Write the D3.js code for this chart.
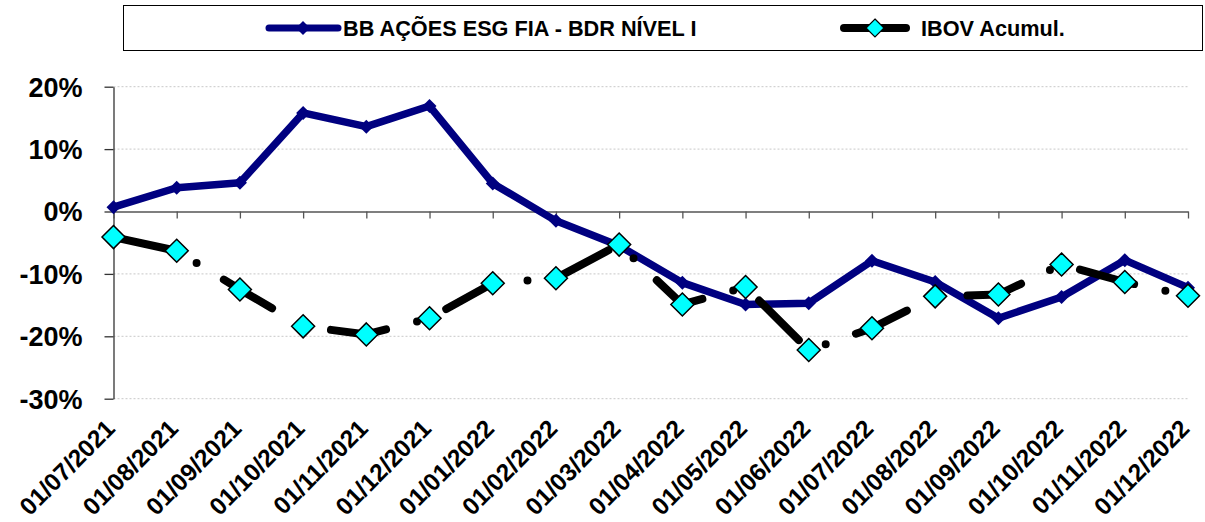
<!DOCTYPE html>
<meta charset="utf-8">
<script src="https://d3js.org/d3.v7.min.js"></script>
<style>
  body { margin: 0; background: #fff; }
  text { font-family: "Liberation Sans", Arial, sans-serif; font-weight: bold; fill: #000; }
</style>
<div id="viz"></div>
<script>
// categories and series values (percent)
var dates = ["01/07/2021", "01/08/2021", "01/09/2021", "01/10/2021", "01/11/2021", "01/12/2021",
             "01/01/2022", "01/02/2022", "01/03/2022", "01/04/2022", "01/05/2022", "01/06/2022",
             "01/07/2022", "01/08/2022", "01/09/2022", "01/10/2022", "01/11/2022", "01/12/2022"];
var bbEsg = [0.7, 3.8, 4.6, 15.8, 13.6, 16.9, 4.5, -1.5, -5.5, -11.4, -14.9, -14.7, -7.9, -11.3, -17.1, -13.7, -7.8, -12.2];
var ibov  = [-4.1, -6.3, -12.5, -18.4, -19.7, -17.1, -11.5, -10.7, -5.3, -14.9, -12.1, -22.2, -18.7, -13.6, -13.3, -8.5, -11.3, -13.5];
var yTicks = [20, 10, 0, -10, -20, -30];
var seriesNames = ["BB AÇÕES ESG FIA - BDR NÍVEL I", "IBOV Acumul."];

var W = 1205, H = 522;
var svg = d3.select("#viz").append("svg")
  .attr("width", W).attr("height", H);

var x = d3.scalePoint().domain(dates).range([113.5, 1188]);
var y = d3.scaleLinear().domain([-30, 20]).range([398.7, 86.7]);

// gridlines
svg.append("g").selectAll("line")
  .data(yTicks.filter(function(d) { return d !== 0; }))
  .enter().append("line")
  .attr("x1", 113.5).attr("x2", 1188)
  .attr("y1", function(d) { return y(d); }).attr("y2", function(d) { return y(d); })
  .attr("stroke", "#c8c8c8").attr("stroke-width", 1).attr("stroke-dasharray", "2,2");

// y axis
var yAxis = svg.append("g")
  .attr("transform", "translate(113.5,0)")
  .call(d3.axisLeft(y).tickValues(yTicks).tickSize(9).tickSizeOuter(0).tickPadding(22)
        .tickFormat(function(d) { return d + "%"; }));
yAxis.select(".domain").attr("stroke", "#333").attr("stroke-width", 1.3);
yAxis.selectAll(".tick line").attr("stroke", "#333").attr("stroke-width", 1.3);
yAxis.selectAll("text").style("font-size", "27px").attr("dy", "0.35em");

// x axis at 0%
var xAxis = svg.append("g")
  .attr("transform", "translate(0," + y(0) + ")")
  .call(d3.axisBottom(x).tickSize(7).tickSizeOuter(0).tickFormat(""));
xAxis.select(".domain").attr("stroke", "#555").attr("stroke-width", 1.3);
xAxis.selectAll(".tick line").attr("stroke", "#555").attr("stroke-width", 1.3);

// x labels, rotated
svg.append("g").selectAll("text")
  .data(dates)
  .enter().append("text")
  .attr("text-anchor", "end")
  .attr("transform", function(d) { return "translate(" + (x(d) + 3) + ",430) rotate(-45)"; })
  .style("font-size", "24.5px")
  .text(function(d) { return d; });

var diamond = function(r) { return "M0," + (-r) + "L" + r + ",0L0," + r + "L" + (-r) + ",0Z"; };

// BB ESG series
var line = d3.line()
  .x(function(d, i) { return x(dates[i]); })
  .y(function(d) { return y(d); });

svg.append("path")
  .datum(bbEsg)
  .attr("d", line)
  .attr("fill", "none")
  .attr("stroke", "#000080")
  .attr("stroke-width", 7.5)
  .attr("stroke-linejoin", "round");
svg.append("g").selectAll("path")
  .data(bbEsg)
  .enter().append("path")
  .attr("d", diamond(7))
  .attr("transform", function(d, i) { return "translate(" + x(dates[i]) + "," + y(d) + ")"; })
  .attr("fill", "#000080");

// IBOV series
svg.append("path")
  .datum(ibov)
  .attr("d", line)
  .attr("fill", "none")
  .attr("stroke", "#000")
  .attr("stroke-width", 8)
  .attr("stroke-linecap", "round")
  .attr("stroke-linejoin", "round")
  .attr("stroke-dasharray", "56,32,0,32");
svg.append("g").selectAll("path")
  .data(ibov)
  .enter().append("path")
  .attr("d", diamond(11.5))
  .attr("transform", function(d, i) { return "translate(" + x(dates[i]) + "," + y(d) + ")"; })
  .attr("fill", "#00ffff")
  .attr("stroke", "#000")
  .attr("stroke-width", 1.5);

// legend
var lg = svg.append("g");
lg.append("rect")
  .attr("x", 123.5).attr("y", 5.5).attr("width", 1079).attr("height", 45)
  .attr("fill", "#fff").attr("stroke", "#000").attr("stroke-width", 1);

lg.append("line").attr("x1", 269).attr("x2", 338).attr("y1", 28).attr("y2", 28)
  .attr("stroke", "#000080").attr("stroke-width", 7).attr("stroke-linecap", "round");
lg.append("path").attr("d", diamond(7)).attr("transform", "translate(303,28)").attr("fill", "#000080");
lg.append("text").attr("x", 343).attr("y", 36).style("font-size", "21.7px").text(seriesNames[0]);

lg.append("line").attr("x1", 844).attr("x2", 906).attr("y1", 28).attr("y2", 28)
  .attr("stroke", "#000").attr("stroke-width", 8).attr("stroke-linecap", "round");
lg.append("path").attr("d", diamond(9)).attr("transform", "translate(875,28)")
  .attr("fill", "#00ffff").attr("stroke", "#000").attr("stroke-width", 1.2);
lg.append("text").attr("x", 921).attr("y", 36).style("font-size", "21.7px").text(seriesNames[1]);
</script>
